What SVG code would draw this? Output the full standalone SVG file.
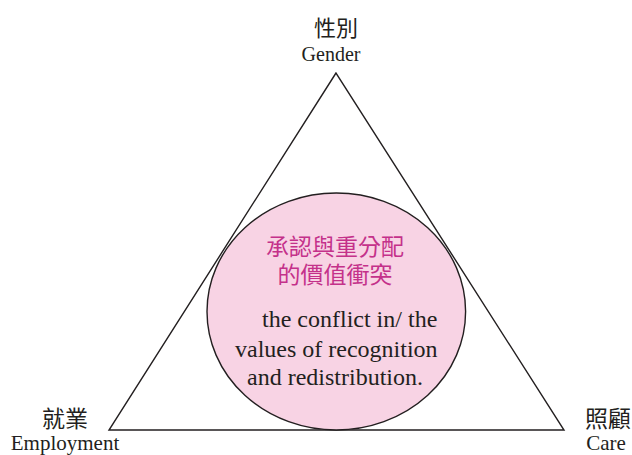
<svg xmlns="http://www.w3.org/2000/svg" width="632" height="455" viewBox="0 0 632 455">
<style>
.line{fill:none;stroke:#231f20;stroke-width:1.4;stroke-linejoin:miter}
.cjk{font-family:'Liberation Serif','Times New Roman','DejaVu Serif','Noto Sans CJK TC',serif;fill:#231f20;text-anchor:middle}
.en{font-family:'Liberation Serif','Times New Roman','DejaVu Serif',serif;fill:#231f20}
.pink{font-family:'Liberation Serif','Noto Sans CJK TC',serif;fill:#c4318a;text-anchor:middle;font-size:23px}
</style>
<rect width="632" height="455" fill="#ffffff"/>
<g id="connectors">
<polygon class="line" points="336,73 109,430 564,430"/>
</g>
<g id="center">
<ellipse cx="336.3" cy="311.5" rx="129.3" ry="118.5" fill="#f8d3e4" stroke="#231f20" stroke-width="1.4"/>
<text class="pink" x="335" y="255">承認與重分配</text>
<text class="pink" x="335" y="283">的價值衝突</text>
<text class="en" font-family="Liberation Serif, serif" font-size="24" x="262" y="327">the conflict in/ the</text>
<text class="en" font-family="Liberation Serif, serif" font-size="24" x="235" y="357">values of recognition</text>
<text class="en" font-family="Liberation Serif, serif" font-size="24" x="247" y="385">and redistribution.</text>
</g>
<g id="gender">
<text class="cjk" font-size="22" x="336" y="36">性別</text>
<text class="en" font-family="Liberation Serif, serif" font-size="20" x="331" y="61" text-anchor="middle">Gender</text>
</g>
<g id="employment">
<text class="cjk" font-size="23" x="65" y="427">就業</text>
<text class="en" font-family="Liberation Serif, serif" font-size="21" x="65" y="450" text-anchor="middle">Employment</text>
</g>
<g id="care">
<text class="cjk" font-size="23" x="608" y="427">照顧</text>
<text class="en" font-family="Liberation Serif, serif" font-size="21" x="606" y="450" text-anchor="middle">Care</text>
</g>
</svg>
